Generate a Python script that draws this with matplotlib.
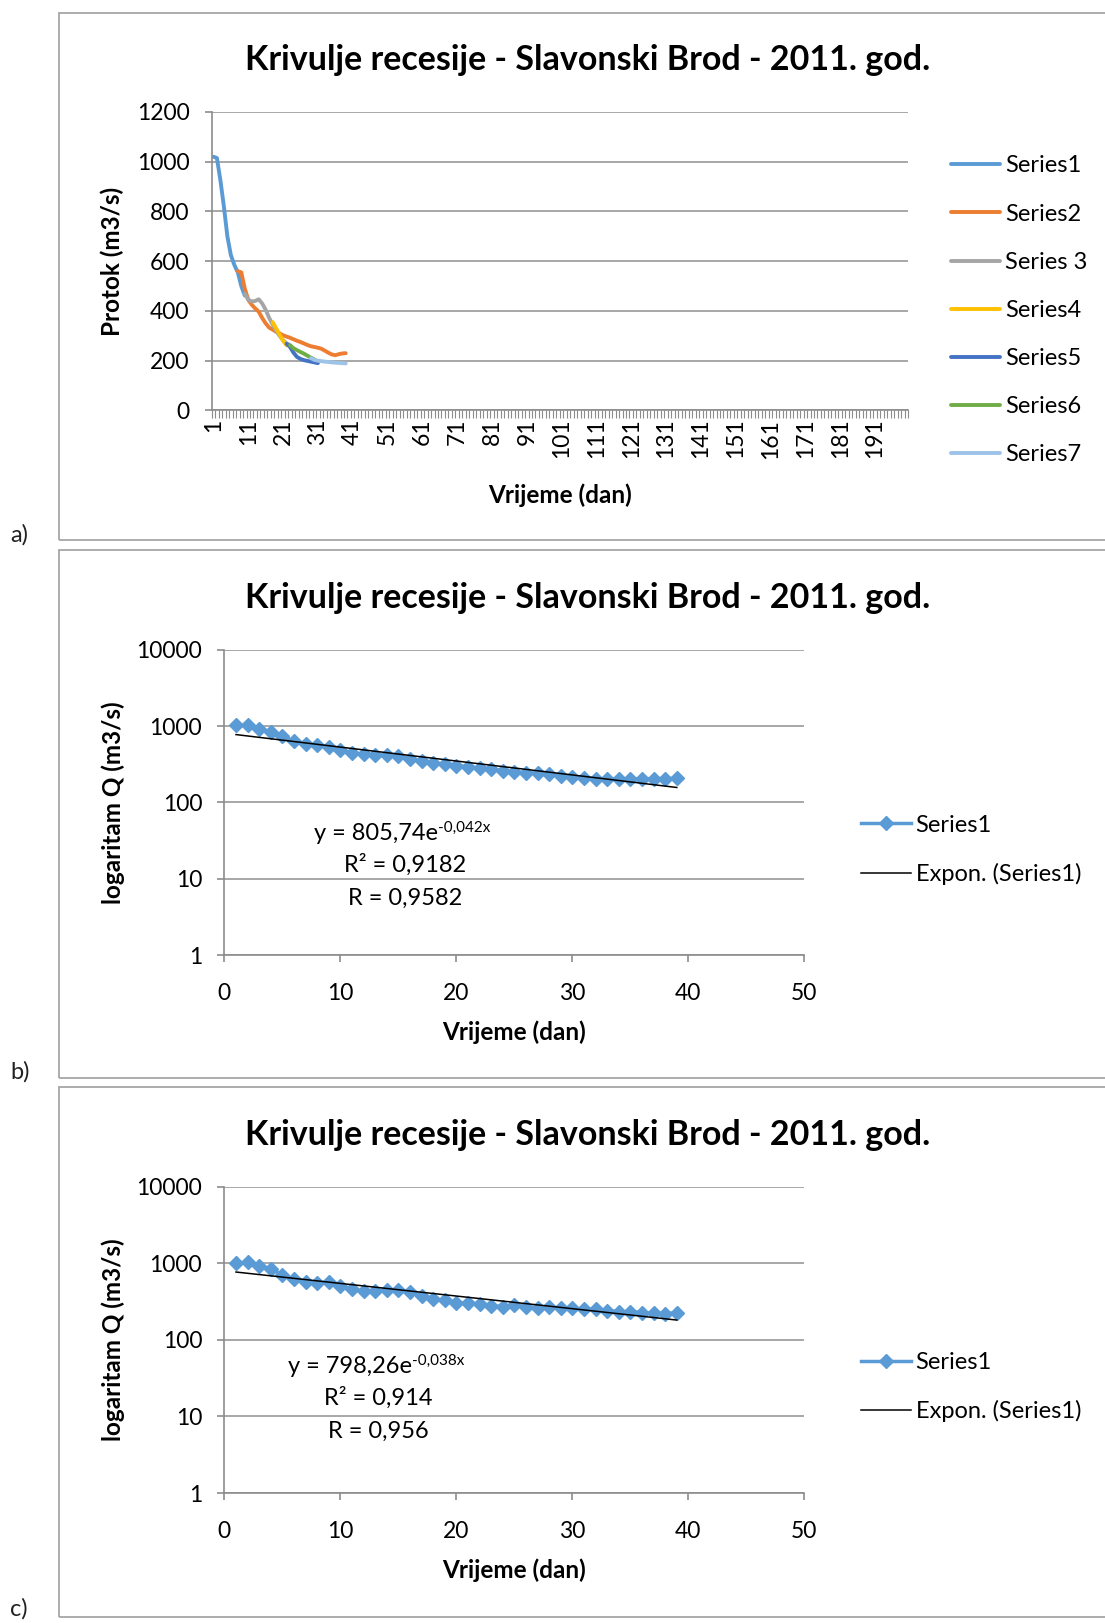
import matplotlib
matplotlib.use("Agg")
import matplotlib.pyplot as plt
import numpy as np
from matplotlib.patches import Rectangle
from matplotlib.ticker import FixedLocator, NullFormatter

plt.rcParams['font.family'] = ['Lato', 'DejaVu Sans']

title = 'Krivulje recesije - Slavonski Brod - 2011. god.'

# panel a: recession segments (day index, discharge m3/s)
s1_x = list(range(1, 11))
s1_y = [1020, 1015, 925, 820, 700, 625, 585, 555, 500, 462]
s2_x = list(range(8, 40))
s2_y = [560, 555, 490, 445, 425, 410, 397, 372, 350, 333, 325, 316, 310, 302,
        297, 292, 286, 280, 275, 269, 263, 258, 255, 252, 248, 240, 232, 225,
        222, 226, 229, 230]
s3_x = list(range(10, 24))
s3_y = [470, 445, 438, 440, 447, 430, 405, 372, 345, 320, 300, 282, 270, 262]
s4_x = list(range(18, 23))
s4_y = [355, 330, 305, 280, 262]
s5_x = list(range(22, 32))
s5_y = [268, 255, 232, 215, 207, 202, 199, 196, 193, 190]
s6_x = list(range(23, 31))
s6_y = [262, 250, 242, 235, 228, 220, 212, 205]
s7_x = list(range(29, 40))
s7_y = [210, 203, 200, 198, 196, 195, 193, 192, 191, 190, 189]
series_names = ['Series1', 'Series2', 'Series 3', 'Series4', 'Series5', 'Series6', 'Series7']
series_colors = ['#5B9BD5', '#ED7D31', '#A5A5A5', '#FFC000', '#4472C4', '#70AD47', '#9DC3E6']

# panel b: master recession curve
b_x = list(range(1, 40))
b_y = [1020, 1020, 925, 836, 733, 636, 587, 558, 531, 480, 447, 425, 413, 413,
       401, 373, 347, 330, 314, 302, 293, 279, 270, 259, 251, 244, 240, 232,
       221, 212, 206, 204, 204, 204, 204, 204, 204, 205, 206]
b_a, b_k = 805.74, -0.042
b_text = ['y = 805,74e', '-0,042x', 'R² = 0,9182', 'R = 0,9582']

# panel c
c_x = list(range(1, 40))
c_y = [1000, 1025, 927, 840, 707, 621, 578, 551, 568, 498, 460, 428, 428, 442,
       442, 416, 369, 342, 328, 303, 303, 295, 280, 272, 286, 272, 259, 272,
       259, 259, 251, 251, 241, 234, 234, 227, 223, 219, 227]
c_a, c_k = 798.26, -0.038
c_text = ['y = 798,26e', '-0,038x', 'R² = 0,914', 'R = 0,956']

W, H = 1105, 1623
fig = plt.figure(figsize=(W / 100, H / 100), dpi=100)

grid_c = '#A0A0A0'
axis_c = '#8C8C8C'
TS = 24.5   # title size
LS = 17.5   # axis label size
KS = 16.5   # tick label size
GS = 17     # legend / annotation size


def fx(px):
    return px / W


def fy(py):
    return 1 - py / H


# chart frames
for top, bot in [(12.5, 540), (550.5, 1078), (1086.5, 1617)]:
    fig.add_artist(Rectangle((fx(59), fy(bot)), 1.2, (bot - top) / H,
                             transform=fig.transFigure, fill=False,
                             edgecolor='#A6A6A6', lw=1.3))
for lab, py in [('a)', 535), ('b)', 1072), ('c)', 1609)]:
    fig.text(fx(10), fy(py), lab, fontsize=17, va='center', ha='left', color='#222222')


def style(ax):
    for s in ['top', 'right']:
        ax.spines[s].set_visible(False)
    for s in ['left', 'bottom']:
        ax.spines[s].set_color(axis_c)
        ax.spines[s].set_linewidth(1.2)
    ax.tick_params(colors=axis_c, labelcolor='black', length=5, width=1.2,
                   labelsize=KS)
    ax.grid(axis='y', color=grid_c, lw=1.3)
    ax.set_axisbelow(True)


# ---------- panel a ----------
axa = fig.add_axes([fx(211.7), fy(410.4), fx(908 - 211.7), (410.4 - 112) / H])
style(axa)
xs = [s1_x, s2_x, s3_x, s4_x, s5_x, s6_x, s7_x]
ys = [s1_y, s2_y, s3_y, s4_y, s5_y, s6_y, s7_y]
for x, y, n, c in zip(xs, ys, series_names, series_colors):
    axa.plot(x, y, color=c, lw=2.8, label=n, solid_capstyle='round')
axa.set_xlim(0.5, 200.5)
axa.set_ylim(0, 1200)
axa.set_yticks(range(0, 1201, 200))
axa.set_xticks(range(1, 200, 10))
axa.set_xticklabels([str(v) for v in range(1, 200, 10)], rotation=90)
axa.tick_params(axis='x', length=0, pad=6)
axa.xaxis.set_minor_locator(FixedLocator(np.arange(0.5, 201, 1)))
axa.tick_params(axis='x', which='minor', length=6, width=0.8, color=axis_c)
axa.tick_params(axis='y', pad=11)
axa.set_ylabel('Protok (m3/s)', fontsize=LS, fontweight='bold', labelpad=9)
axa.set_xlabel('Vrijeme (dan)', fontsize=LS, fontweight='bold', labelpad=18)
axa.set_title(title, fontsize=TS, fontweight='bold', pad=30, x=0.540)
axa.legend(loc='center left', bbox_to_anchor=(1.048, 0.335), frameon=False,
           fontsize=GS, handlelength=2.1, handletextpad=0.2, labelspacing=1.15,
           borderaxespad=0)


# ---------- panels b, c ----------
def log_panel(top, bot, x, y, a, k, txt, tpos):
    ax = fig.add_axes([fx(224.4), fy(bot), fx(804.4 - 224.4), (bot - top) / H])
    style(ax)
    ax.set_yscale('log')
    ax.set_ylim(1, 10000)
    ax.set_xlim(0, 50)
    ax.set_yticks([1, 10, 100, 1000, 10000])
    ax.set_yticklabels(['1', '10', '100', '1000', '10000'])
    ax.yaxis.set_minor_locator(FixedLocator([]))
    ax.yaxis.set_minor_formatter(NullFormatter())
    ax.set_xticks(range(0, 51, 10))
    ax.tick_params(axis='y', pad=11)
    ax.tick_params(axis='x', pad=15)
    ax.plot(x, y, color='#5B9BD5', lw=2.5, marker='D', markersize=7,
            label='Series1')
    xx = np.array([x[0], x[-1]])
    ax.plot(xx, a * np.exp(k * xx), color='black', lw=1.1, label='Expon. (Series1)')
    ax.set_ylabel('logaritam Q (m3/s)', fontsize=LS, fontweight='bold', labelpad=8)
    ax.set_xlabel('Vrijeme (dan)', fontsize=LS, fontweight='bold', labelpad=12)
    ax.set_title(title, fontsize=TS, fontweight='bold', pad=30, x=0.627)
    ax.legend(loc='center left', bbox_to_anchor=(1.082, 0.345), frameon=False,
              fontsize=GS, handlelength=2.1, handletextpad=0.2, labelspacing=1.15,
              borderaxespad=0)
    (tx, rx, ty1, ty2, ty3) = tpos
    t = ax.text(tx, ty1, txt[0], transform=ax.transAxes, fontsize=GS,
                ha='center', va='center')
    ax.annotate(txt[1], xy=(1.0, 0.8), xycoords=t, fontsize=11,
                ha='left', va='center')
    ax.text(rx, ty2, txt[2], transform=ax.transAxes, fontsize=GS,
            ha='center', va='center')
    ax.text(rx, ty3, txt[3], transform=ax.transAxes, fontsize=GS,
            ha='center', va='center')
    return ax


log_panel(649.7, 955, b_x, b_y, b_a, b_k, b_text, (0.262, 0.311, 0.397, 0.295, 0.187))
log_panel(1186.7, 1493, c_x, c_y, c_a, c_k, c_text, (0.217, 0.266, 0.412, 0.311, 0.202))

fig.savefig('out.png', dpi=100)
